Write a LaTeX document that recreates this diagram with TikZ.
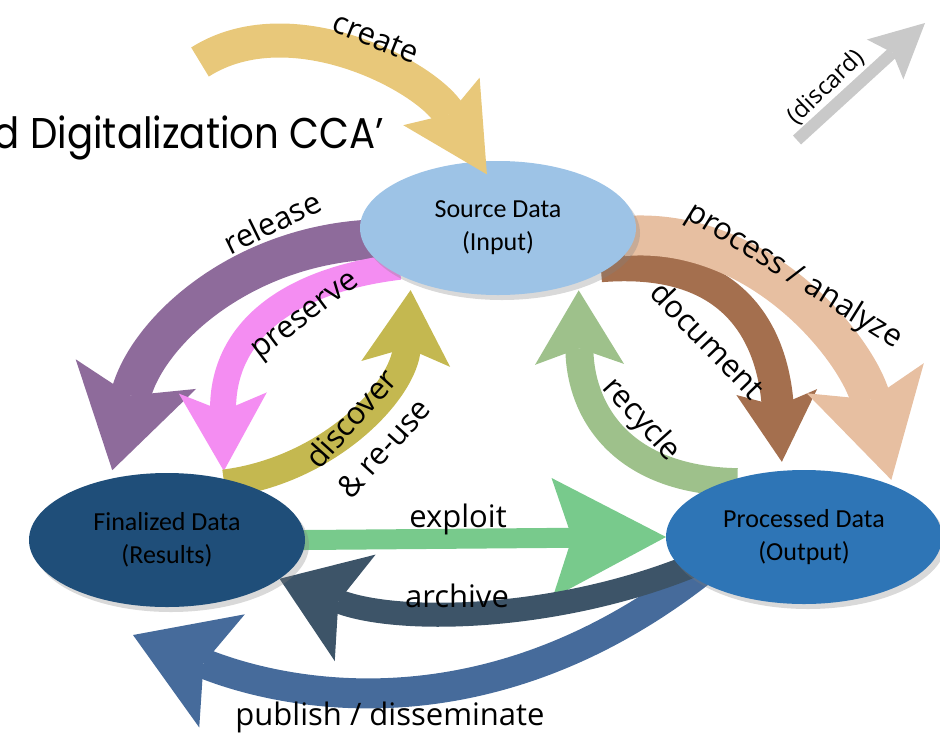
\documentclass[tikz,border=0pt]{standalone}
\usepackage{fontspec}
\usetikzlibrary{shapes.geometric,arrows.meta,shadows}
\newfontfamily\labelfont{Open Sans}
\newfontfamily\cellfont{Carlito}
\newfontfamily\titlefont{Poppins}[FakeStretch=0.9]
\definecolor{srcblue}{HTML}{9DC3E6}
\definecolor{finblue}{HTML}{1F4E79}
\definecolor{procblue}{HTML}{2E75B6}
\definecolor{createcol}{HTML}{E8C87A}
\definecolor{releasecol}{HTML}{8E6B9B}
\definecolor{preservecol}{HTML}{F48DF2}
\definecolor{discovercol}{HTML}{C4B850}
\definecolor{processcol}{HTML}{E7BFA1}
\definecolor{documentcol}{HTML}{A46F4E}
\definecolor{recyclecol}{HTML}{9EC18B}
\definecolor{exploitcol}{HTML}{78CA8C}
\definecolor{archivecol}{HTML}{3D5468}
\definecolor{publishcol}{HTML}{466B9B}
\definecolor{discardcol}{HTML}{C9C9C9}
\pgfdeclarelayer{back}
\pgfsetlayers{back,main}
\tikzset{
  datanode/.style={ellipse, fill=#1, minimum width=276pt, minimum height=134pt,
    inner sep=0pt, outer sep=0pt, align=center, text=black,
    font=\cellfont\fontsize{26}{33}\selectfont,
    drop shadow={shadow xshift=4pt, shadow yshift=-5pt, opacity=.3}},
  flow/.style 2 args={draw=#1, line width=#2pt},
  bighead/.style n args={3}{-{Stealth[length=#1pt, width=#2pt, inset=#3pt, line width=0pt]}},
  lbl/.style={font=\labelfont\fontsize{31}{44}\selectfont, align=center, inner sep=0pt}
}
\begin{document}
\begin{tikzpicture}[x=1pt, y=-1pt]
	\useasboundingbox (0,0) rectangle (940,737);
	\clip (0,0) rectangle (940,737);
	\node[anchor=base east, inner sep=0pt, font=\titlefont\fontsize{43}{50}\selectfont] (title) at (384,148) {d Digitalization CCA’};
	% data stores
	\node[datanode=srcblue] (src) at (498,228) {Source Data\\(Input)};
	\node[datanode=finblue] (fin) at (167,540) {Finalized Data\\(Results)};
	\node[datanode=procblue] (proc) at (804,537) {Processed Data\\(Output)};
	\coordinate (createtail) at (200,62);
	\coordinate (pubtip) at (133,635);
	\coordinate (dtail) at (797,140);
	\coordinate (dtip) at (925,23);
	% flows behind the stores
	\begin{pgfonlayer}{back}
		\draw[flow={releasecol}{40}, bighead={99}{124}{22}, shorten <=-12pt, shorten >=9pt]
			(src.185) .. controls (240,245) and (146,333) .. (fin.133);
		\draw[flow={preservecol}{26}, bighead={78}{88}{18}, shorten <=-12pt, shorten >=8pt]
			(src.200) .. controls (290,280) and (222,330) .. (fin.47);
		\draw[flow={discovercol}{28}, bighead={74}{89}{16}, shorten <=-12pt, shorten >=10pt]
			(fin.40) .. controls (330,470) and (404,390) .. (src.211);
		\draw[flow={documentcol}{32}, bighead={70}{81}{14}, shorten <=-12pt, shorten >=9pt]
			(src.342) .. controls (740,255) and (773,341) .. (proc.108);
		\draw[flow={processcol}{40}, bighead={105}{121}{22}, shorten <=-12pt, shorten >=6pt]
			(src.357) .. controls (760,225) and (858,350) .. (proc.30);
		\draw[flow={recyclecol}{28}, bighead={74}{89}{16}, shorten <=-12pt, shorten >=8pt]
			(proc.145) .. controls (620,480) and (580,410) .. (src.326);
		\draw[flow={exploitcol}{20}, bighead={114}{120}{20}, shorten <=-12pt]
			(fin.east) -- (proc.west);
		\draw[flow={publishcol}{30}, bighead={96}{122}{20}, shorten <=-12pt]
			(proc.200) .. controls (480,745) and (272,691) .. (pubtip);
		\draw[flow={archivecol}{24}, bighead={81}{114}{18}, shorten <=-12pt]
			(proc.195) .. controls (560,620) and (400,625) .. (fin.341);
	\end{pgfonlayer}
	\draw[flow={createcol}{34}, bighead={86}{90}{15}, shorten >=-15pt]
		(createtail) .. controls (290,5) and (425,75) .. (src.106);
	\draw[flow={discardcol}{12}, bighead={54}{54}{10}] (dtail) -- (dtip);
	% labels
	\node[lbl, rotate=-22] (lcreate) at (376,38) {create};
	\node[lbl, rotate=26] (lrelease) at (272,222) {release};
	\node[lbl, rotate=37] (lpreserve) at (307,318) {preserve};
	\node[lbl, rotate=48] (ldiscover) at (367,433) {discover\\\& re-use};
	\node[lbl, rotate=-32] (lprocess) at (794,276) {process / analyze};
	\node[lbl, rotate=-46] (ldocument) at (708,340) {document};
	\node[lbl, rotate=-48] (lrecycle) at (641,420) {recycle};
	\node[lbl, anchor=base] (lexploit) at (458,527) {exploit};
	\node[lbl, anchor=base] (larchive) at (457,607) {archive};
	\node[lbl, anchor=base] (lpublish) at (390,725) {publish / disseminate};
	\node[lbl, rotate=44, font=\labelfont\fontsize{24}{28}\selectfont] (ldiscard) at (826,87) {(discard)};
\end{tikzpicture}
\end{document}
